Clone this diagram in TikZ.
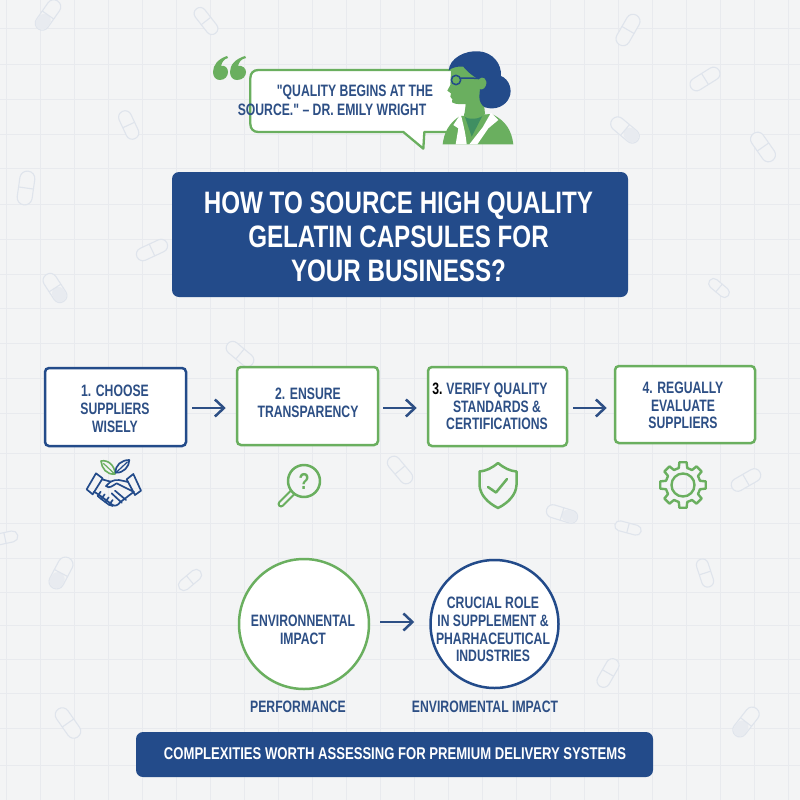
\documentclass[tikz,border=0pt]{standalone}
\usepackage{fontspec}
\usetikzlibrary{arrows.meta,calc}
\setmainfont{Liberation Sans}[FakeStretch=0.78]
\newfontfamily\lab{Liberation Sans}[FakeStretch=0.74]
\newfontfamily\barfont{Liberation Sans}[FakeStretch=0.77]
\definecolor{bgc}{HTML}{F3F4F5}
\definecolor{gridc}{HTML}{E8EAEE}
\definecolor{pillc}{HTML}{DFE4EC}
\definecolor{pillf}{HTML}{E8EBF0}
\definecolor{navy}{HTML}{234B8A}
\definecolor{inkc}{HTML}{2D4F85}
\definecolor{leaf}{HTML}{6AAF5F}
\definecolor{shirt}{HTML}{3F8F62}
\newcommand{\pillshape}[6]{%
  \begin{scope}[shift={(#1,#2)},rotate=#3]
    \draw[pillc,line width=1.1pt,fill=bgc,rounded corners=#5*0.49pt] (-#4/2,-#5/2) rectangle (#4/2,#5/2);
    \ifnum#6=1
      \fill[pillf,rounded corners=#5*0.45pt] (-#4/2+0.6,-#5/2+0.6) -- (0,-#5/2+0.6) -- (0,#5/2-0.6) -- (-#4/2+0.6,#5/2-0.6) -- cycle;
    \fi
    \draw[pillc,line width=1.1pt] (0,-#5/2) -- (0,#5/2);
  \end{scope}}
\tikzset{
  x=1pt,y=-1pt,
  boxnavy/.style={draw=navy,line width=2.5pt,fill=white,rounded corners=4pt,inner sep=0pt},
  boxleaf/.style={draw=leaf,line width=2.5pt,fill=white,rounded corners=4pt,inner sep=0pt},
  banner/.style={fill=navy,rounded corners=7pt,inner sep=0pt},
  labeltext/.style={text=inkc,align=center,font=\lab\bfseries\fontsize{16.5}{17.8}\selectfont},
  flow/.style={draw=inkc,line width=2.2pt,-{Straight Barb[length=9pt,width=17pt,line width=2.5pt]}},
  iconleaf/.style={draw=leaf,line width=2.2pt,line join=round,line cap=round},
  iconnavy/.style={draw=navy,line width=1.7pt,line join=round,line cap=round},
}
\begin{document}
\begin{tikzpicture}
\useasboundingbox (0,0) rectangle (800,800);
\fill[bgc] (0,0) rectangle (800,800);
% grid
\foreach \gx in {6,40,74,108,142,176,210,244,278,312,346,380,414,448,482,516,550,584,618,652,686,720,754,788}
  \draw[gridc,line width=0.9pt] (\gx,0) -- (\gx,800);
\foreach \gy in {28,64,99,134,168,204,239,274,308,343,378,413,453,488,523,558,592,625,659,693,728,765}
  \draw[gridc,line width=0.9pt] (0,\gy) -- (800,\gy);
% pills
\pillshape{48}{15}{55}{34}{14}{1}
\pillshape{206}{21}{-52}{31}{12}{0}
\pillshape{128.7}{125}{-65}{30}{13}{0}
\pillshape{26}{188}{82}{34}{15}{0}
\pillshape{152}{250}{25}{33}{13}{0}
\pillshape{55}{288}{123}{32}{14}{1}
\pillshape{628}{30}{60}{34}{14}{0}
\pillshape{705}{79}{32}{33}{13}{0}
\pillshape{625}{130}{140}{33}{14}{1}
\pillshape{763}{147}{-55}{33}{14}{0}
\pillshape{719}{288}{-40}{24}{10}{0}
\pillshape{240}{354}{-40}{32}{13}{0}
\pillshape{400}{470}{-50}{32}{13}{0}
\pillshape{562}{514}{163}{32}{13}{1}
\pillshape{628}{528}{-15}{27}{10}{0}
\pillshape{746}{480}{30}{32}{13}{0}
\pillshape{5}{538}{12}{26}{11}{0}
\pillshape{61}{573}{62}{34}{15}{1}
\pillshape{190}{580}{40}{27}{11}{0}
\pillshape{68}{723}{-55}{34}{14}{0}
\pillshape{705}{573}{-72}{29}{12}{0}
\pillshape{608}{673}{60}{31}{13}{0}
\pillshape{746}{722}{52}{34}{14}{1}
% quote marks
\fill[leaf] (227,56) .. controls (218,59) and (213,65) .. (213,72) .. controls (213,77) and (216,80) .. (220,80) .. controls (225,80) and (228,76) .. (228,72) .. controls (228,68) and (225,65) .. (221,66) .. controls (222,62) and (224,59) .. (228,58) -- cycle;
\fill[leaf] (245,56) .. controls (235,59) and (230,65) .. (230,72) .. controls (230,77) and (233,80) .. (237,80) .. controls (243,80) and (246,76) .. (246,72) .. controls (246,68) and (242,65) .. (238,66) .. controls (239,62) and (241,59) .. (246,58) -- cycle;
% speech bubble
\begin{scope}[shift={(190,40)},scale=1/3]
\draw[leaf,line width=2.3pt,fill=white,line join=round]
  (205,90) -- (830,90) -- (830,276) -- (703,276) -- (700,326) -- (640,276) -- (205,276)
  .. controls (190,276) and (181,266) .. (181,252) -- (181,114) .. controls (181,100) and (190,90) .. (205,90) -- cycle;
% woman: body
\fill[leaf] (758,313) .. controls (762,280) and (775,250) .. (810,228) -- (905,222) .. controls (945,240) and (965,270) .. (970,313) -- cycle;
\fill[shirt] (822,222) -- (880,222) -- (845,290) -- cycle;
\fill[white] (812,222) -- (790,255) -- (805,265) -- (797,313) -- (830,313) .. controls (828,290) and (822,260) .. (812,222) -- cycle;
\fill[white] (903,218) -- (878,262) -- (838,313) -- (862,313) -- (895,265) -- (925,240) -- cycle;
% neck and face
\fill[leaf] (784,75) -- (781,135) -- (772,152) -- (783,160) -- (781,170) -- (787,178) -- (786,187) .. controls (800,195) and (815,192) .. (828,192) -- (822,228) .. controls (835,240) and (865,240) .. (885,222) -- (880,170) -- (885,75) -- cycle;
% hair
\fill[navy] (776,92) .. controls (778,55) and (825,30) .. (868,34) .. controls (908,38) and (935,70) .. (933,108) .. controls (958,118) and (968,150) .. (958,172) .. controls (948,198) and (915,212) .. (885,202) .. controls (875,197) and (868,185) .. (868,170) -- (872,122) .. controls (860,115) and (835,100) .. (820,80) .. controls (805,78) and (785,82) .. (776,92) -- cycle;
% ear
\fill[leaf] (866,118) .. controls (878,105) and (895,118) .. (887,138) .. controls (882,150) and (870,150) .. (864,145) -- cycle;
% glasses
\draw[navy,line width=1.5pt] (798,120) circle[radius=14];
\draw[navy,line width=1.5pt] (811,114) -- (866,115);
\end{scope}
\node[labeltext] (q1) at (355,92) {"QUALITY BEGINS AT THE};
\node[labeltext] (q2) at (332,110) {SOURCE." – DR. EMILY WRIGHT};
% title
\node[banner,minimum width=456pt,minimum height=125pt] (title) at (400,234.5) {};
\node[text=white,align=center,font=\bfseries\fontsize{31}{34}\selectfont] (titletext) at (398.5,237) {HOW TO SOURCE HIGH QUALITY\\GELATIN CAPSULES FOR\\YOUR BUSINESS?};
% steps
\node[boxnavy,minimum width=141pt,minimum height=78pt] (s1) at (115.5,407) {};
\node[boxleaf,minimum width=141pt,minimum height=78pt] (s2) at (307.5,406) {};
\node[boxleaf,minimum width=139pt,minimum height=79pt] (s3) at (497.5,406.5) {};
\node[boxleaf,minimum width=140pt,minimum height=77pt] (s4) at (685,404.5) {};
\node[labeltext] (t1) at (115,409) {1. CHOOSE\\SUPPLIERS\\WISELY};
\node[labeltext] (t2) at (308,403) {2. ENSURE\\TRANSPARENCY};
\node[labeltext] (t3) at (497,406.5) {\llap{\textcolor{black}{3.}\hspace{4pt}}VERIFY QUALITY\\STANDARDS \&\\CERTIFICATIONS};
\node[labeltext] (t4) at (683,405.5) {4. REGUALLY\\EVALUATE\\SUPPLIERS};
\draw[flow] ($(s1.east)+(5,1)$) -- ($(s2.west)+(-10,2)$);
\draw[flow] ($(s2.east)+(4,2)$) -- ($(s3.west)+(-10,1.5)$);
\draw[flow] ($(s3.east)+(5,1.5)$) -- ($(s4.west)+(-7,3.5)$);
% handshake icon
\begin{scope}[shift={(70,450)},scale=1/3]
\draw[leaf,line width=1.6pt,line join=round,fill=bgc] (93,33) .. controls (115,28) and (135,48) .. (135,72) .. controls (110,75) and (95,55) .. (93,33) -- cycle;
\draw[leaf,line width=1.2pt] (100,40) -- (132,70);
\draw[iconnavy,fill=bgc] (178,30) .. controls (155,30) and (135,45) .. (137,68) .. controls (160,70) and (178,50) .. (178,30) -- cycle;
\draw[iconnavy,line width=1.2pt] (172,36) -- (140,66);
\draw[iconnavy] (78,70) -- (98,85) -- (68,133) -- (50,118) -- cycle;
\draw[iconnavy] (190,72) -- (213,122) -- (195,135) -- (170,88) -- cycle;
\draw[iconnavy] (96,88) -- (122,95) -- (108,108) .. controls (118,118) and (130,105) .. (140,100) -- (190,125);
\draw[iconnavy] (122,95) .. controls (140,85) and (155,92) .. (174,96);
\draw[iconnavy] (72,125) -- (88,135) -- (128,165) .. controls (135,170) and (145,165) .. (150,157) -- (192,125);
\draw[iconnavy] (92,125) -- (83,138) -- (95,148);
\draw[iconnavy] (104,133) -- (94,147) -- (107,157);
\draw[iconnavy] (116,142) -- (106,156) -- (118,165);
\draw[iconnavy] (128,150) -- (118,164) -- (128,168);
\draw[iconnavy] (135,122) -- (168,150);
\draw[iconnavy] (125,130) -- (155,158);
\end{scope}
% magnifier icon
\draw[iconleaf,line width=7pt] (293.5,491.5) -- (281,504);
\draw[bgc,line width=2.6pt,line cap=round] (292.5,492.5) -- (281,504);
\draw[iconleaf,line width=2.5pt,fill=bgc] (304,481) circle[radius=16];
\node[text=leaf,font=\fontsize{23}{23}\bfseries\selectfont] (qm) at (304,481) {?};
% shield icon
\draw[iconleaf,line width=2.5pt] (498,463) .. controls (492,468) and (486,471) .. (479.5,471.5) -- (479.5,485) .. controls (480,495) and (488,503) .. (498,508) .. controls (508,503) and (516,495) .. (516.5,485) -- (516.5,471.5) .. controls (510,471) and (504,468) .. (498,463) -- cycle;
\draw[iconleaf,line width=2.5pt] (488,487) -- (496,492.5) -- (507,479);
% gear icon
\begin{scope}[shift={(683,485)}]
\draw[iconleaf,line width=2.4pt] (14:17.5)
  \foreach \ga in {0,45,...,315} { -- ({\ga+31}:17.5) -- ({\ga+36}:23) -- ({\ga+54}:23) -- ({\ga+59}:17.5) } -- cycle;
\draw[iconleaf,line width=2.4pt] (0,0) circle[radius=11.5];
\end{scope}
% circles
\node[draw=leaf,line width=2.5pt,fill=white,circle,minimum size=130pt,inner sep=0pt] (c1) at (304,624) {};
\node[draw=navy,line width=2.5pt,fill=white,circle,minimum size=128pt,inner sep=0pt] (c2) at (494.5,624) {};
\node[labeltext] (c1t) at (303,630) {ENVIRONNENTAL\\IMPACT};
\node[labeltext] (c2t) at (493,629.5) {CRUCIAL ROLE\\IN SUPPLEMENT \&\\PHARHACEUTICAL\\INDUSTRIES};
\draw[flow] ($(c1.east)+(10,-2)$) -- ($(c2.west)+(-15,-2)$);
\node[labeltext] (l1) at (298,707) {PERFORMANCE};
\node[labeltext] (l2) at (485,707) {ENVIROMENTAL IMPACT};
% bottom banner
\node[banner,minimum width=517pt,minimum height=45pt] (bar) at (394.5,754.5) {};
\node[text=white,font=\barfont\bfseries\fontsize{17}{18}\selectfont] (bart) at (395,754) {COMPLEXITIES WORTH ASSESSING FOR PREMIUM DELIVERY SYSTEMS};
\end{tikzpicture}
\end{document}
